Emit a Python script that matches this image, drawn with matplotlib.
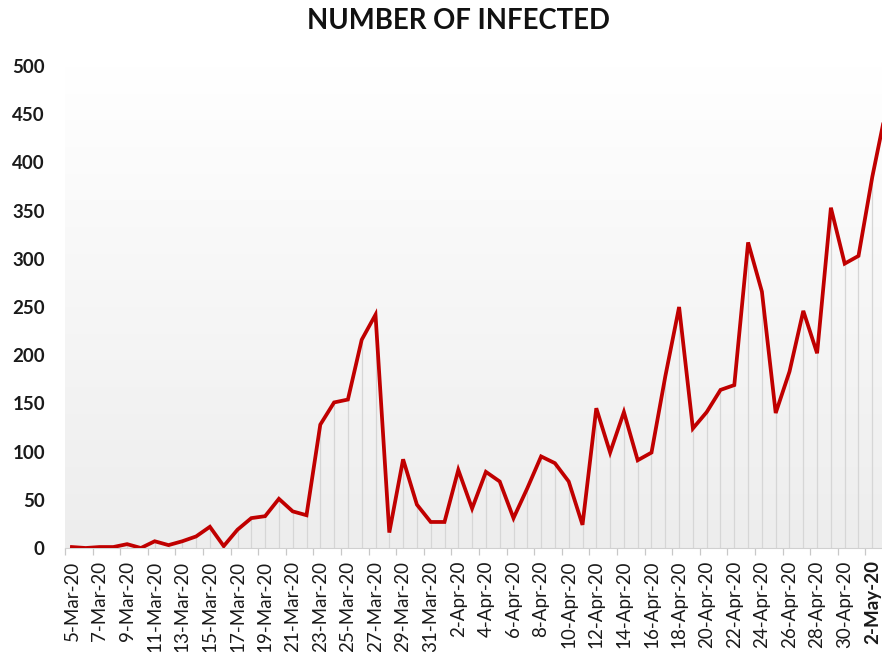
import matplotlib
matplotlib.use('Agg')
import matplotlib.pyplot as plt
import matplotlib.ticker as ticker
from matplotlib.colors import LinearSegmentedColormap
import numpy as np
import pandas as pd

# Daten
tage = pd.date_range('2020-03-05', '2020-05-03', freq='D')
labels = [d.strftime('%-d-%b-%y') for d in tage]
infiziert = [1, 0, 1, 1, 4, 0, 7, 3, 7, 12,
             22, 2, 19, 31, 33, 51, 38, 34, 128, 151,
             154, 216, 242, 16, 92, 45, 27, 27, 81, 41,
             79, 69, 31, 62, 95, 88, 69, 24, 145, 99,
             141, 91, 99, 178, 250, 124, 141, 164, 169, 317,
             266, 140, 183, 246, 202, 353, 295, 303, 385, 455]

plt.rcParams['font.family'] = ['Lato', 'DejaVu Sans']

fig = plt.figure(figsize=(8.82, 6.52), dpi=100)
# Plotbereich geht rechts über den Bildrand hinaus (wie im Original abgeschnitten)
ax = fig.add_axes([65 / 882, 104 / 652, 828 / 882, 482 / 652])

x = np.arange(len(infiziert))
n = len(infiziert)

# Hintergrund-Verlauf
verlauf = LinearSegmentedColormap.from_list('bg', ['#ededed', '#ffffff'])
grad = np.linspace(0, 1, 256).reshape(-1, 1)
ax.imshow(grad, extent=[-0.5, n - 0.5, 0, 500], aspect='auto', cmap=verlauf,
          origin='lower', zorder=0)

# Falllinien
ax.vlines(x, 0, infiziert, color='#d6d6d6', lw=0.9, zorder=1)

# Linie
ax.plot(x, infiziert, color='#c00000', lw=2.7, solid_joinstyle='miter', zorder=3)

ax.set_xlim(-0.5, n - 0.5)
ax.set_ylim(0, 500)

for s in ['top', 'right', 'left']:
    ax.spines[s].set_visible(False)
ax.spines['bottom'].set_color('#d0d0d0')

# y-Achse
ax.yaxis.set_major_locator(ticker.MultipleLocator(50))
ax.tick_params(axis='y', length=0, pad=14.5, labelsize=13.5, labelcolor='#1a1a1a')
for t in ax.get_yticklabels():
    t.set_fontweight('bold')

# x-Achse: Beschriftung jeden 2. Tag, Striche zwischen den Kategorien
ax.set_xticks(x[::2])
ax.set_xticklabels(labels[::2], rotation=90, fontsize=13.5, color='#1a1a1a')
ax.set_xticks(np.arange(-0.5, n, 2), minor=True)
ax.tick_params(axis='x', which='major', length=0, pad=9)
ax.tick_params(axis='x', which='minor', length=5, color='#c8c8c8', width=0.9)
ax.get_xticklabels()[-1].set_fontweight('bold')

fig.text(0.52, 0.968, 'NUMBER OF INFECTED', ha='center', va='center',
         fontsize=19.8, fontweight='bold', color='#111111')

fig.savefig('out.png', dpi=100)
